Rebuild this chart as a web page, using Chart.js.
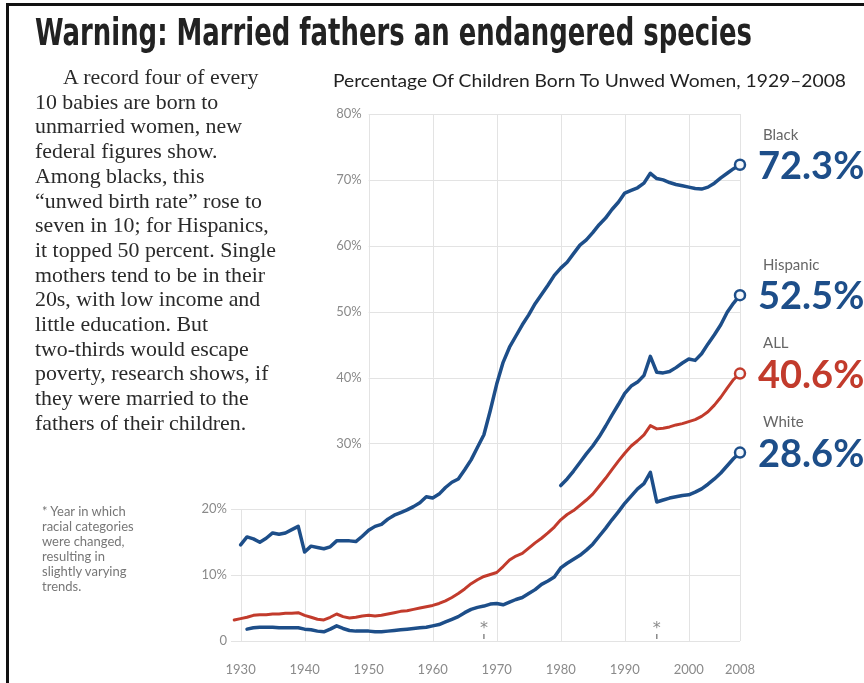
<!DOCTYPE html>
<html>
<head>
<meta charset="utf-8">
<script src="https://cdn.jsdelivr.net/npm/chart.js@4.4.1/dist/chart.umd.min.js"></script>
<style>
  html, body { margin: 0; padding: 0; background: #fff; }
  body { width: 864px; height: 683px; position: relative; overflow: hidden; }
  #frame { position: absolute; left: 6px; top: 3px; width: 900px; height: 720px;
           border-top: 3px solid #111; border-left: 3px solid #111; }
  #chart { position: absolute; left: 0; top: 0; }
  .txt { position: absolute; white-space: nowrap; }
  #title { left: 35px; top: 11px; font: bold 37px "Liberation Sans Narrow", "DejaVu Sans Condensed", sans-serif;
           color: #222; transform-origin: 0 0; }
  #lede { left: 35px; top: 65px; font: 21px/24.7px "Liberation Serif", serif; color: #2a2a2a; transform-origin: 0 0; }
  #lede .ind { padding-left: 27px; }
  #sub { left: 333px; top: 70px; font: 17px "Lato", sans-serif; color: #222; transform-origin: 0 0; }
  #note { left: 42px; top: 504px; font: 13px/15px "Lato", sans-serif; color: #777; }
</style>
</head>
<body>
<div id="frame"></div>
<canvas id="chart" width="864" height="683"></canvas>
<div class="txt" id="title">Warning: Married fathers an endangered species</div>
<div class="txt" id="lede"><span class="ind">A record four of every</span><br>10 babies are born to<br>unmarried women, new<br>federal figures show.<br>Among blacks, this<br>“unwed birth rate” rose to<br>seven in 10; for Hispanics,<br>it topped 50 percent. Single<br>mothers tend to be in their<br>20s, with low income and<br>little education. But<br>two-thirds would escape<br>poverty, research shows, if<br>they were married to the<br>fathers of their children.</div>
<div class="txt" id="sub">Percentage Of Children Born To Unwed Women, 1929–2008</div>
<div class="txt" id="note">* Year in which<br>racial categories<br>were changed,<br>resulting in<br>slightly varying<br>trends.</div>
<script>
// percent of births to unmarried women, one value per year
const allStart = 1929;
const allValues = [
  3.2, 3.4, 3.6, 3.9, 4.0, 4.0, 4.1, 4.1, 4.2, 4.2, 4.3,
  3.9, 3.6, 3.3, 3.2, 3.6, 4.1, 3.7, 3.5, 3.6, 3.8,
  3.9, 3.8, 3.9, 4.1, 4.3, 4.5, 4.6, 4.8, 5.0, 5.2,
  5.4, 5.7, 6.1, 6.6, 7.2, 7.9, 8.7, 9.3, 9.8, 10.1,
  10.4, 11.3, 12.3, 12.9, 13.3, 14.1, 14.9, 15.6, 16.4, 17.3,
  18.4, 19.2, 19.8, 20.6, 21.4, 22.3, 23.5, 24.7, 26.0, 27.3,
  28.5, 29.6, 30.4, 31.3, 32.7, 32.2, 32.3, 32.5, 32.8, 33.0,
  33.3, 33.6, 34.1, 34.8, 35.8, 37.0, 38.4, 39.7, 40.6
];

const whiteStart = 1931;
const whiteValues = [
  1.8, 2.0, 2.1, 2.1, 2.1, 2.0, 2.0, 2.0, 2.0,
  1.8, 1.7, 1.5, 1.4, 1.8, 2.3, 1.9, 1.6, 1.5, 1.5,
  1.5, 1.4, 1.4, 1.5, 1.6, 1.7, 1.8, 1.9, 2.0, 2.1,
  2.3, 2.5, 2.9, 3.3, 3.7, 4.3, 4.8, 5.1, 5.3, 5.6,
  5.7, 5.5, 5.9, 6.3, 6.6, 7.2, 7.8, 8.6, 9.1, 9.7,
  11.1, 11.8, 12.4, 13.0, 13.8, 14.7, 15.9, 17.1, 18.4, 19.6,
  20.9, 22.0, 23.1, 23.9, 25.6, 21.1, 21.4, 21.7, 21.9, 22.1,
  22.2, 22.6, 23.1, 23.8, 24.6, 25.5, 26.6, 27.7, 28.6
];

const blackStart = 1930;
const blackValues = [
  14.6, 15.8, 15.5, 15.0, 15.6, 16.4, 16.2, 16.4, 16.9, 17.4,
  13.5, 14.4, 14.2, 14.0, 14.3, 15.2, 15.2, 15.2, 15.1, 15.9,
  16.8, 17.4, 17.7, 18.5, 19.1, 19.5, 19.9, 20.4, 21.0, 21.9,
  21.7, 22.3, 23.3, 24.1, 24.6, 26.0, 27.5, 29.4, 31.3, 35.0,
  39.0, 42.3, 44.6, 46.3, 48.0, 49.5, 51.2, 52.6, 54.0, 55.5,
  56.6, 57.5, 58.8, 60.1, 60.9, 62.0, 63.2, 64.2, 65.5, 66.6,
  68.0, 68.4, 68.8, 69.5, 71.0, 70.2, 70.0, 69.6, 69.3, 69.1,
  68.9, 68.7, 68.6, 68.9, 69.5, 70.3, 71.0, 71.7, 72.3
];

const hispanicStart = 1980;
const hispanicValues = [
  23.6, 24.6, 25.8, 27.1, 28.4, 29.6, 31.0, 32.6, 34.3, 35.9,
  37.6, 38.7, 39.3, 40.3, 43.2, 40.8, 40.7, 40.9, 41.5, 42.2,
  42.8, 42.6, 43.6, 45.1, 46.5, 48.0, 49.9, 51.3, 52.5
];

const yearTicks = [1930, 1940, 1950, 1960, 1970, 1980, 1990, 2000, 2008];
const pctTicks = [0, 10, 20, 30, 40, 50, 60, 70, 80];
const changeYears = [1968, 1995];   // years marked with an asterisk

const BLUE = '#1d4e89';
const RED = '#c23b2c';
const TICK_FONT = '13px "Lato", sans-serif';

function toPoints(start, values){
  return values.map((v, i) => ({ x: start + i, y: v }));
}

function series(label, start, values, color, width){
  const last = values.length - 1;
  return {
    label,
    data: toPoints(start, values),
    borderColor: color,
    borderWidth: width,
    borderJoinStyle: 'round',
    borderCapStyle: 'round',
    tension: 0,
    pointRadius: c => c.dataIndex === last ? 5 : 0,
    pointBorderWidth: 2.5,
    pointBorderColor: color,
    pointBackgroundColor: '#f4f8fc',
    clip: false
  };
}

// grid is stepped: the upper rows give way to the text column on the left
const gridPlugin = {
  id: 'stepGrid',
  beforeDatasetsDraw(chart){
    const { ctx, chartArea, scales: { x, y } } = chart;
    ctx.save();
    ctx.strokeStyle = '#e3e3e3';
    ctx.lineWidth = 1;
    pctTicks.forEach(v => {
      const py = Math.round(y.getPixelForValue(v)) + 0.5;
      const x0 = v >= 30 ? x.getPixelForValue(1950) : chartArea.left;
      ctx.beginPath(); ctx.moveTo(x0, py); ctx.lineTo(x.getPixelForValue(2008), py); ctx.stroke();
    });
    yearTicks.forEach(yr => {
      const px = Math.round(x.getPixelForValue(yr)) + 0.5;
      const top = y.getPixelForValue(yr >= 1950 ? 80 : 20);
      ctx.beginPath(); ctx.moveTo(px, top); ctx.lineTo(px, y.getPixelForValue(0)); ctx.stroke();
    });
    ctx.restore();
  },
  afterDatasetsDraw(chart){
    const { ctx, chartArea, scales: { x, y } } = chart;
    ctx.save();
    ctx.font = TICK_FONT;
    ctx.fillStyle = '#8a8a8a';
    ctx.textBaseline = 'middle';
    ctx.textAlign = 'right';
    pctTicks.forEach(v => {
      const lx = v >= 30 ? x.getPixelForValue(1950) - 7 : chartArea.left - 4;
      ctx.fillText(v === 0 ? '0' : v + '%', lx, y.getPixelForValue(v));
    });
    ctx.textAlign = 'center';
    yearTicks.forEach(yr => ctx.fillText(String(yr), x.getPixelForValue(yr), chartArea.bottom + 29));

    // asterisks for the years the categories changed
    const base = y.getPixelForValue(0);
    changeYears.forEach(yr => {
      const px = x.getPixelForValue(yr);
      ctx.font = '16px "DejaVu Sans", sans-serif';
      ctx.fillText('*', px, base - 12);
      ctx.fillRect(px - 0.75, base - 7, 1.5, 5);
    });

    // series name and final value at the right end of each line
    chart.data.datasets.forEach((ds, i) => {
      const meta = chart.getDatasetMeta(i);
      const pt = meta.data[meta.data.length - 1];
      const last = ds.data[ds.data.length - 1].y;
      ctx.textAlign = 'left';
      ctx.fillStyle = '#666';
      ctx.font = '15px "Lato", sans-serif';
      ctx.fillText(ds.label, pt.x + 23, pt.y - 30);
      ctx.fillStyle = ds.borderColor;
      ctx.font = 'bold 38px "Lato", sans-serif';
      ctx.fillText(last.toFixed(1) + '%', pt.x + 18, pt.y + 2);
    });
    ctx.restore();
  }
};

new Chart(document.getElementById('chart').getContext('2d'), {
  type: 'line',
  data: {
    datasets: [
      series('White', whiteStart, whiteValues, BLUE, 3.5),
      series('ALL', allStart, allValues, RED, 3),
      series('Hispanic', hispanicStart, hispanicValues, BLUE, 3.5),
      series('Black', blackStart, blackValues, BLUE, 3.5)
    ]
  },
  options: {
    responsive: false,
    animation: false,
    layout: { padding: { left: 231, right: 124, top: 114, bottom: 42 } },
    scales: {
      x: { type: 'linear', min: 1928.5, max: 2008, display: false },
      y: { min: 0, max: 80, display: false }
    },
    plugins: { legend: { display: false }, tooltip: { enabled: false } }
  },
  plugins: [gridPlugin]
});

// squeeze text blocks to their set widths
function fitWidth(id, px){
  const el = document.getElementById(id);
  const w = el.getBoundingClientRect().width;
  el.style.transform = 'scaleX(' + (px / w) + ')';
}
fitWidth('title', 717);
fitWidth('sub', 513);
fitWidth('lede', 241);
</script>
</body>
</html>
